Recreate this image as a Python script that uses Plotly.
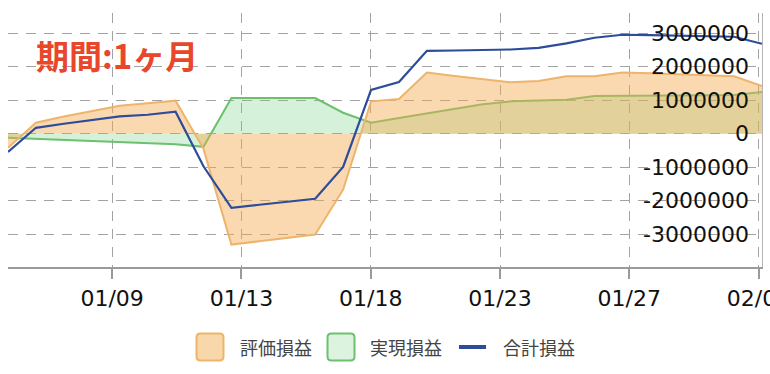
import datetime as dt
import plotly.graph_objects as go

# ---------------- data ----------------
dates = ["2023-01-05", "2023-01-06", "2023-01-07", "2023-01-08", "2023-01-09", "2023-01-10",
         "2023-01-11", "2023-01-12", "2023-01-13", "2023-01-14", "2023-01-15", "2023-01-16",
         "2023-01-17", "2023-01-18", "2023-01-19", "2023-01-20", "2023-01-21", "2023-01-22",
         "2023-01-23", "2023-01-24", "2023-01-25", "2023-01-26", "2023-01-27", "2023-01-28",
         "2023-01-29", "2023-01-30", "2023-01-31", "2023-02-01"]

unrealized = [-420000, 330000, 520000, 680000, 840000, 910000, 990000, -450000,
              -3310000, -3210000, -3110000, -3010000, -1670000, 970000, 1040000, 1830000,
              1730000, 1630000, 1540000, 1580000, 1720000, 1720000, 1830000, 1810000,
              1780000, 1750000, 1720000, 1430000]

realized = [-120000, -150000, -180000, -220000, -250000, -280000, -310000, -390000,
            1070000, 1070000, 1070000, 1070000, 630000, 330000, 470000, 600000,
            740000, 880000, 970000, 990000, 1020000, 1130000, 1130000, 1130000,
            1140000, 1150000, 1160000, 1250000]

total = [-540000, 180000, 300000, 410000, 520000, 570000, 660000, -970000,
         -2210000, -2120000, -2030000, -1940000, -990000, 1310000, 1550000, 2480000,
         2490000, 2500000, 2520000, 2570000, 2700000, 2870000, 2960000, 2950000,
         2930000, 2920000, 2900000, 2690000]

series_names = ["評価損益", "実現損益", "合計損益"]
x_tick_labels = ["01/09", "01/13", "01/18", "01/23", "01/27", "02/01"]
y_tick_values = [3000000, 2000000, 1000000, 0, -1000000, -2000000, -3000000]
title_text = "期間:1ヶ月"

# ---------------- styling ----------------
ORANGE_LINE = "#EDB46C"
ORANGE_FILL = "rgba(243,170,80,0.45)"
GREEN_LINE = "#6CC06F"
GREEN_FILL = "rgba(120,210,130,0.30)"
BLUE_LINE = "#2D4C99"
GRID = "#A3A3A3"
TICK_FONT = dict(family="DejaVu Sans, sans-serif", size=22, color="#111111")

# points are daily samples at noon; axis ticks every 400000 s
xs = [dt.datetime.fromisoformat(d) + dt.timedelta(hours=12) for d in dates]
tick0 = dt.datetime(2023, 1, 9, 5, 30)
tickvals = [tick0 + dt.timedelta(seconds=400000 * i) for i in range(len(x_tick_labels))]

fig = go.Figure()
fig.add_trace(go.Scatter(x=xs, y=realized, name=series_names[1], mode="lines",
                         line=dict(color=GREEN_LINE, width=2), fill="tozeroy",
                         fillcolor=GREEN_FILL, showlegend=False))
fig.add_trace(go.Scatter(x=xs, y=unrealized, name=series_names[0], mode="lines",
                         line=dict(color=ORANGE_LINE, width=2), fill="tozeroy",
                         fillcolor=ORANGE_FILL, showlegend=False))
fig.add_trace(go.Scatter(x=xs, y=total, name=series_names[2], mode="lines",
                         line=dict(color=BLUE_LINE, width=2.2), showlegend=False))

fig.update_xaxes(
    range=[xs[0], xs[-1]],
    tickvals=tickvals, ticktext=x_tick_labels,
    showgrid=True, gridcolor=GRID, gridwidth=1.3, griddash="10px,8px",
    showline=True, linecolor="#9A9A9A", linewidth=1.5,
    ticks="outside", ticklen=10, tickwidth=1.5, tickcolor="#9A9A9A",
    ticklabelstandoff=1, ticklabeloverflow="allow",
    tickfont=TICK_FONT, zeroline=False, automargin=False,
)
fig.update_yaxes(
    range=[-3980000, 3610000], side="right",
    tickvals=y_tick_values, showticklabels=False, ticks="",
    showgrid=True, gridcolor=GRID, gridwidth=1.3, griddash="10px,8px",
    showline=True, linecolor="#B5B5B5", linewidth=1.2,
    zeroline=False, automargin=False,
)

# ---------------- custom legend ----------------
L, R, T, B = 8, 8, 13, 107
W, H = 770, 374
pw, ph = W - L - R, H - T - B


def px(x):
    return (x - L) / pw


def py(y):
    return (H - B - y) / ph


legend_y = 347
box = ("M -9.5,-13.5 L 9.5,-13.5 Q 13.5,-13.5 13.5,-9.5 L 13.5,9.5 Q 13.5,13.5 9.5,13.5 "
       "L -9.5,13.5 Q -13.5,13.5 -13.5,9.5 L -13.5,-9.5 Q -13.5,-13.5 -9.5,-13.5 Z")
shapes = [
    dict(type="path", xref="paper", yref="paper", xsizemode="pixel", ysizemode="pixel",
         xanchor=px(210), yanchor=py(legend_y), path=box,
         fillcolor="#F8D7AB", line=dict(color=ORANGE_LINE, width=2)),
    dict(type="path", xref="paper", yref="paper", xsizemode="pixel", ysizemode="pixel",
         xanchor=px(341), yanchor=py(legend_y), path=box,
         fillcolor="#DCF3DF", line=dict(color=GREEN_LINE, width=2)),
    dict(type="line", xref="paper", yref="paper", x0=px(459), x1=px(486),
         y0=py(legend_y), y1=py(legend_y), line=dict(color=BLUE_LINE, width=4)),
]
legend_font = dict(family="Noto Sans CJK JP, sans-serif", size=18, color="#444444")
annotations = [
    dict(x=px(238), y=py(legend_y), xref="paper", yref="paper", text=series_names[0],
         showarrow=False, xanchor="left", yanchor="middle", font=legend_font),
    dict(x=px(368), y=py(legend_y), xref="paper", yref="paper", text=series_names[1],
         showarrow=False, xanchor="left", yanchor="middle", font=legend_font),
    dict(x=px(501), y=py(legend_y), xref="paper", yref="paper", text=series_names[2],
         showarrow=False, xanchor="left", yanchor="middle", font=legend_font),
    dict(x=px(34), y=py(55), xref="paper", yref="paper", text="<b>" + title_text + "</b>",
         showarrow=False, xanchor="left", yanchor="middle",
         font=dict(family="Noto Sans CJK JP, sans-serif", size=33, color="#E8472B")),
]
# y-axis tick labels drawn inside the plot, right-aligned near the right edge
for v in y_tick_values:
    annotations.append(dict(x=1, y=v, xref="paper", yref="y", text=str(v),
                            showarrow=False, xanchor="right", yanchor="middle",
                            xshift=-11, font=TICK_FONT))

fig.update_layout(
    width=W, height=H,
    margin=dict(l=L, r=R, t=T, b=B, pad=0),
    paper_bgcolor="white", plot_bgcolor="white",
    showlegend=False, shapes=shapes, annotations=annotations,
    hovermode=False,
)

fig.write_html("out.html", config={"displayModeBar": False},
               post_script="document.body.style.margin='0';")
